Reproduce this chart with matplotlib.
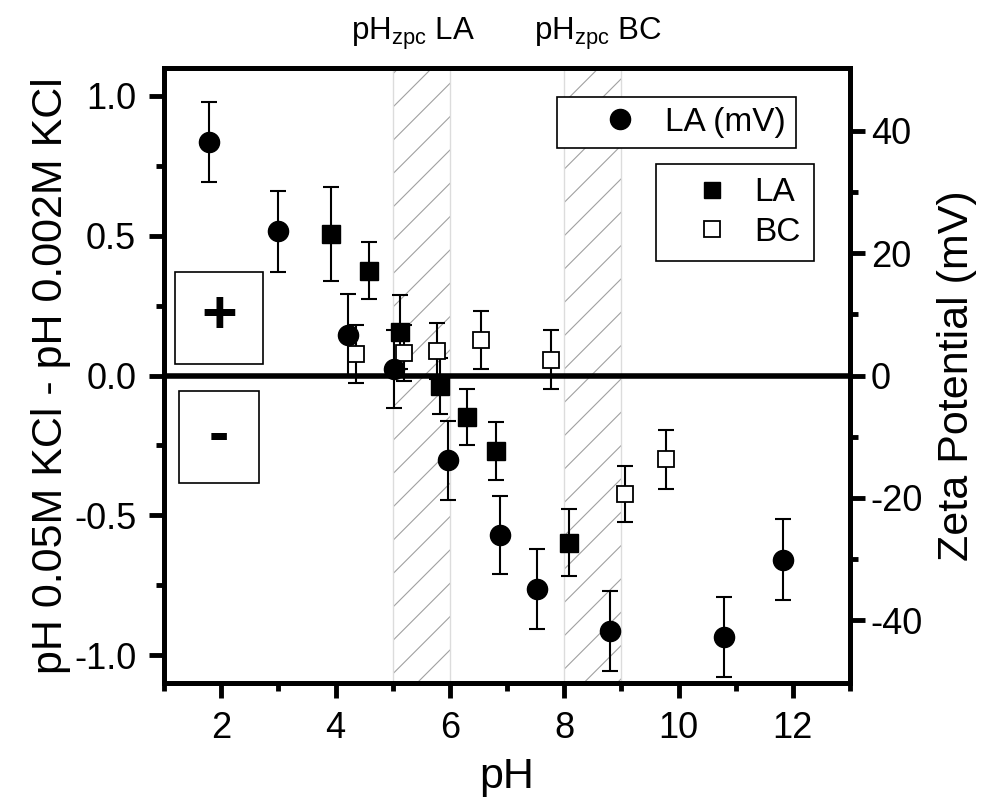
import matplotlib
matplotlib.use('Agg')
import matplotlib.pyplot as plt
from matplotlib.patches import Rectangle

plt.rcParams['font.family'] = ['Liberation Sans', 'DejaVu Sans']
plt.rcParams['mathtext.fontset'] = 'custom'
plt.rcParams['mathtext.rm'] = 'Liberation Sans'
plt.rcParams['axes.unicode_minus'] = False
plt.rcParams['hatch.linewidth'] = 0.8

# zeta potential of LA (right axis, mV)
zeta_ph = [1.79, 3.00, 4.21, 5.02, 5.96, 6.87, 7.52, 8.81, 10.80, 11.82]
zeta_mv = [38.2, 23.6, 6.7, 1.1, -13.9, -26.1, -34.9, -41.8, -42.8, -30.1]
zeta_err = [6.6, 6.6, 6.6, 6.4, 6.5, 6.4, 6.5, 6.6, 6.5, 6.6]

# delta pH, LA (left axis)
la_ph = [3.92, 4.59, 5.12, 5.82, 6.30, 6.80, 8.08]
la_dph = [0.506, 0.375, 0.155, -0.036, -0.149, -0.271, -0.598]
la_err = [0.169, 0.102, 0.133, 0.10, 0.10, 0.103, 0.12]

# delta pH, BC (left axis)
bc_ph = [4.36, 5.19, 5.77, 6.54, 7.77, 9.07, 9.78]
bc_dph = [0.077, 0.080, 0.089, 0.127, 0.057, -0.423, -0.300]
bc_err = [0.104, 0.10, 0.10, 0.104, 0.104, 0.10, 0.105]

# pH_zpc ranges
zpc_spans = [(5, 6), (8, 9)]
zpc_names = ['LA', 'BC']
zpc_label_x = [5.36, 8.59]

fig = plt.figure(figsize=(9.82, 8.09), dpi=100)
ax = fig.add_axes([164/982, 1-683/809, (850-164)/982, (683-68)/809])
ax2 = ax.twinx()

for (a, b) in zpc_spans:
    ax.axvspan(a, b, facecolor='none', edgecolor='#a0a0a0', hatch='/', linewidth=0, zorder=0)
    ax.axvline(a, color='#dcdcdc', lw=1, zorder=0)
    ax.axvline(b, color='#dcdcdc', lw=1, zorder=0)

ax.axhline(0, color='black', lw=4, zorder=1)

eb = dict(fmt='none', ecolor='black', elinewidth=1.5, capsize=6, capthick=1.5, zorder=2)
ax.errorbar(la_ph, la_dph, yerr=la_err, **eb)
ax.errorbar(bc_ph, bc_dph, yerr=bc_err, **eb)
l_la, = ax.plot(la_ph, la_dph, 's', color='black', ms=13, label='LA', zorder=3)
l_bc, = ax.plot(bc_ph, bc_dph, 's', mfc='white', mec='black', mew=1.3, ms=12, label='BC', zorder=3)

ax2.errorbar(zeta_ph, zeta_mv, yerr=zeta_err, **eb)
l_z, = ax2.plot(zeta_ph, zeta_mv, 'o', color='black', ms=14.5, label='LA (mV)', zorder=3)

ax.set_xlim(1, 13)
ax.set_ylim(-1.1, 1.1)
ax2.set_ylim(-50.3, 50.3)

ax.set_xticks([2, 4, 6, 8, 10, 12])
ax.set_xticks(range(1, 14), minor=True)
ax.set_yticks([-1.0, -0.5, 0.0, 0.5, 1.0])
ax.set_yticks([-0.75, -0.25, 0.25, 0.75], minor=True)
ax.set_yticklabels(['-1.0', '-0.5', '0.0', '0.5', '1.0'])
ax2.set_yticks([-40, -20, 0, 20, 40])
ax2.set_yticks([-30, -10, 10, 30], minor=True)

for a in (ax, ax2):
    for s in a.spines.values():
        s.set_linewidth(3.5)
ax.tick_params(which='major', length=11, width=3.5, labelsize=26, pad=9, top=False, right=False)
ax.tick_params(which='minor', length=6, width=3.5, top=False, right=False)
ax2.tick_params(which='major', length=11, width=3.5, labelsize=26, pad=4)
ax2.tick_params(which='minor', length=6, width=3.5)

ax.set_xlabel('pH', fontsize=31, labelpad=8)
ax.set_ylabel('pH 0.05M KCl - pH 0.002M KCl', fontsize=31, labelpad=2)
ax2.set_ylabel('Zeta Potential (mV)', fontsize=31, labelpad=10)

# pH_zpc labels above the plot
for xpos, name in zip(zpc_label_x, zpc_names):
    ax.text(xpos, 1.045, r'pH$_{\mathregular{zpc}}$ ' + name, transform=ax.get_xaxis_transform(),
            ha='center', va='baseline', fontsize=22.5)

# + / - boxes
ax.add_patch(Rectangle((175/982, 1-364/809), 88/982, 92/809, transform=fig.transFigure,
                       fill=False, ec='black', lw=1.2, zorder=4))
ax.add_patch(Rectangle((179/982, 1-483/809), 80/982, 92/809, transform=fig.transFigure,
                       fill=False, ec='black', lw=1.2, zorder=4))
fig.text(219/982, 1-318/809, '+', fontsize=44, fontweight='bold', ha='center', va='center')
fig.text(219/982, 1-437/809, '-', fontsize=44, fontweight='bold', ha='center', va='center')

leg1 = ax2.legend(handles=[l_z], loc='upper left', bbox_to_anchor=(557/982, 1-97/809),
                  bbox_transform=fig.transFigure, fontsize=24, frameon=True, fancybox=False,
                  edgecolor='black', framealpha=1, borderaxespad=0, handlelength=3.2,
                  handletextpad=-0.25, borderpad=0.3)
leg1.get_frame().set_linewidth(1.2)
leg2 = ax.legend(handles=[l_la, l_bc], loc='upper left', bbox_to_anchor=(656/982, 1-164/809),
                 bbox_transform=fig.transFigure, fontsize=24, frameon=True, fancybox=False,
                 edgecolor='black', framealpha=1, borderaxespad=0, handlelength=2.55,
                 handletextpad=0.0, borderpad=0.4, labelspacing=0.25)
leg2.get_frame().set_linewidth(1.2)
leg2.legend_handles[0].set_markersize(12)
leg2.legend_handles[1].set_markersize(11)

fig.savefig('out.png', dpi=100)
